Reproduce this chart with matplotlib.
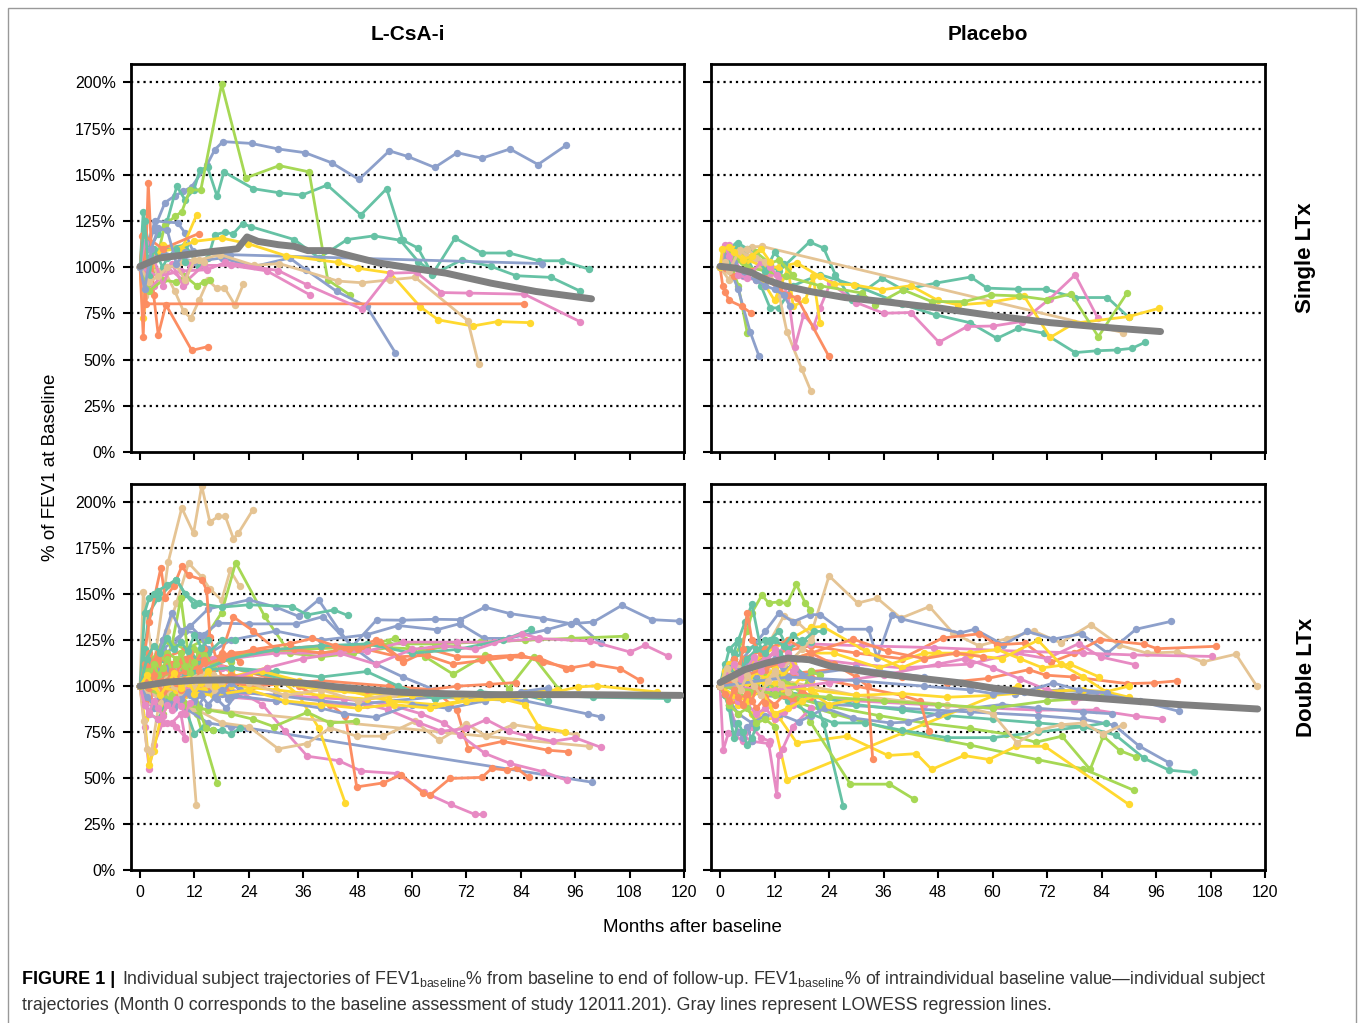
import numpy as np
import matplotlib.pyplot as plt
from matplotlib.patches import Rectangle

plt.rcParams['font.family'] = ['Liberation Sans', 'DejaVu Sans']
plt.rcParams['mathtext.fontset'] = 'custom'
plt.rcParams['mathtext.rm'] = 'Liberation Sans'

# ==============================
# Colours (Set2-like)
# ==============================
pal = {'teal': '#66c2a5', 'orange': '#fc8d62', 'blue': '#8da0cb', 'pink': '#e78ac3',
       'green': '#a6d854', 'yellow': '#ffd92f', 'tan': '#e5c494'}

# ==============================
# Data: each subject = (months, % of baseline FEV1)
# ==============================
# L-CsA-i, single LTx
lcsa_single = [
    ([0, 3, 5.5, 7.7, 9.5, 11.4, 14.8, 16.5, 18.3, 24.6, 30.5, 36.4, 42.3, 48.3, 55, 59, 65, 70, 75.4, 81.6, 87.8, 94],
     [100, 120, 135, 138.7, 141, 143.6, 155.6, 163.7, 168, 167, 164, 162, 156.5, 147.5, 163, 160, 154, 162, 159, 164, 155.6, 166]),
    ([0, 0.7, 2, 4, 6, 8.1, 9.9, 11.9, 13.2, 14.9, 17, 18.5, 25, 30.7, 35.7, 41.3, 48.7, 54.4, 58, 61.3, 64.5, 71, 77.4, 83, 90.7, 97],
     [100, 130, 110, 118, 125, 143.8, 136.6, 142, 152.8, 154, 138.4, 151.6, 142.5, 140.3, 139, 144.5, 128.3, 142.5, 114.6, 110.4, 96, 104, 100.5, 95.4, 94.5, 87.2]),
    ([0, 2, 5, 10, 13, 15, 16.5, 18.8, 20.5, 22.6, 24.4, 34, 39.5, 45.7, 51.6, 57.4, 61.4, 64.7, 69.5, 75.4, 81.4, 88, 93, 99],
     [100, 105, 110, 112, 100, 105, 117.6, 119, 118, 123.6, 122, 115, 105, 115, 117, 114.6, 103, 97, 115.8, 107.7, 107.7, 103.5, 103.5, 99]),
    ([0, 2.2, 5.5, 7.7, 9.2, 11, 13.4, 18, 23.3, 30.7, 37.3, 41.4, 46.3],
     [100, 89, 123, 127.5, 130, 141.8, 141.8, 199, 148.3, 155, 151.6, 93.2, 85]),
    ([0, 3.3, 8.3, 9.9, 11.7, 19.9, 88.7],
     [100, 125, 124, 118.7, 108.6, 106.8, 102]),
    ([0, 5, 12, 18, 25.2, 33, 36.6, 43.4, 50, 56.3],
     [100, 108, 103, 105, 100.4, 105, 98.6, 86.9, 78.8, 53.8]),
    ([0, 3, 8, 12, 18, 23.9, 32.2, 43.7, 48, 55.2, 61.8, 65.8, 73.4, 78.9, 86],
     [100, 108, 110, 114, 115.8, 112.7, 106.2, 102.6, 99.5, 96.9, 78.6, 71.5, 68.2, 70.6, 70]),
    ([0, 0.7, 2, 5.1, 9.2, 12.5],
     [100, 72.6, 95, 112, 109.5, 128.5]),
    ([0, 4, 9, 13, 17.7, 25.2, 30.7, 43.7, 49, 55.2, 60.7, 72.3, 74.7],
     [100, 98, 103, 104, 106.8, 101, 102, 92.5, 91.6, 93.2, 94.5, 71.1, 47.4]),
    ([0, 1.1, 5.5, 7.7, 9.6, 11.2, 13.1, 15, 16.9, 18.6, 20.9, 22.8],
     [100, 84.2, 97.7, 86.9, 76.1, 72.5, 82.4, 93, 88.6, 89, 79.7, 90.9]),
    ([0, 0.5, 1.4, 84.8],
     [100, 117, 80.2, 80.2]),
    ([0, 0.7, 1.8, 3, 4, 5.7, 11.4, 14.9],
     [100, 62.5, 145.7, 85, 63.4, 79.7, 55, 57]),
    ([0, 0.7, 5, 12.9],
     [100, 117.5, 110, 118.2]),
    ([0, 4, 9, 14.7, 18.8, 30.5, 36.8, 49, 55.2, 61, 66.5, 72.5, 84.8, 97],
     [100, 95, 98, 98.6, 102.6, 98.2, 90.5, 77.3, 96.8, 97.2, 86.3, 86, 85.4, 70.6]),
    ([0, 3, 6, 10, 14, 20, 28, 37.5],
     [100, 90, 100, 92, 101, 101, 98, 85]),
    ([0, 2, 5, 8, 10, 12.5, 14, 15.5],
     [100, 87, 93, 92, 95, 90, 92, 93]),
    ([0, 1, 3, 5, 7, 9.5, 11],
     [100, 113, 105, 90, 102, 90, 101]),
    ([0, 1, 2, 3, 5, 6, 8, 10],
     [100, 125, 95, 110, 100, 105, 110, 103]),
    ([0, 2, 4, 6, 8, 10, 12, 14],
     [100, 92, 95, 100, 101, 93, 104, 103]),
    ([0, 1, 2.5, 4, 6, 8, 10],
     [100, 88, 110, 121, 120, 102, 108]),
]
lcsa_single_colors = ['blue', 'teal', 'teal', 'green', 'blue', 'blue', 'yellow', 'yellow', 'tan', 'tan',
                      'orange', 'orange', 'orange', 'pink', 'pink', 'green', 'pink', 'teal', 'tan', 'blue']
lcsa_single_lowess_m = [0, 4.3, 10.2, 16.2, 19.7, 21.5, 23.6, 26, 30.5, 34, 37, 42, 46.8, 52.7, 60, 67.5, 77.4, 87.3, 99.6]
lcsa_single_lowess_v = [100.5, 105, 106.8, 108.6, 109.5, 110, 116.4, 114, 112.2, 111.3, 109, 109, 105.9, 102.3, 99.5, 96.8, 91.4, 86.9, 82.9]

# Placebo, single LTx
plac_single = [
    ([0, 3, 8, 13, 19.7, 22.8, 25.4, 29, 35.7, 40.3, 47.5, 55.2, 58.8, 65.7, 71.7, 78.2, 85.3, 90],
     [100, 108, 105, 98, 113.7, 110.4, 95.9, 82.4, 94.1, 87.8, 91.4, 94.7, 88.7, 88.1, 88.1, 83.6, 83.6, 72.9]),
    ([0, 1.5, 3.5, 6, 9, 11, 13, 16, 22, 30, 40, 47.5, 55, 61, 65.7, 71.3, 78.2, 83, 87.3, 90.7, 93.6],
     [100, 109, 112, 105, 90, 78, 78, 90, 96, 90, 80, 74.2, 70, 61.5, 67, 64.3, 53.8, 54.8, 55.2, 56.1, 59.4]),
    ([0, 2, 5, 7, 9.2, 88.8],
     [100, 105, 110, 111, 111.3, 64.6]),
    ([0, 2, 4, 6, 9, 11, 13, 14.7, 18, 20],
     [100, 93, 110, 106, 100, 97, 85, 65.2, 44.8, 33]),
    ([0, 2, 5, 8, 11, 13, 15, 16.5, 18.4, 20.6, 22, 24.3, 30, 36, 42, 48.2, 54.4, 60.2, 66.4, 72.6, 78.2, 83.2],
     [100, 112, 95, 93, 97, 94, 85, 57, 74.3, 67.9, 77.9, 91.4, 80.9, 75.1, 75.5, 59.4, 67.9, 68.2, 70.6, 82.9, 95.9, 72.4]),
    ([0, 1, 3, 6, 10, 13, 16.9, 22, 25, 29.4, 35.7, 42, 48, 52.5, 59.2, 67, 72.7, 78, 90, 96.7],
     [100, 108, 110, 104, 100, 100, 102.3, 95, 91, 90.5, 87.8, 90, 82, 79.6, 80.9, 84.2, 62, 69.7, 73.3, 77.8]),
    ([0, 2, 4, 8, 10, 12, 15, 16.1, 18.8, 20.5, 22],
     [100, 108, 105, 95, 90, 82, 99.7, 78.8, 82.4, 95, 70]),
    ([0, 3, 6, 10, 14.5, 22, 31.3, 34.2, 40.3, 46.6, 53.8, 59.6, 65.8, 72, 77.3, 83.3, 89.7],
     [100, 105, 100, 98, 95, 90, 86, 79.6, 87.8, 81.4, 81.4, 85, 84.5, 82.4, 85.6, 62.4, 86.3]),
    ([0, 2, 4, 6],
     [100, 105, 90, 64.3]),
    ([0, 1, 2, 4, 6.6, 8.6],
     [100, 105, 100, 88, 65.2, 51.7]),
    ([0, 0.6, 1.1, 2, 4.8, 6.8],
     [100, 89.6, 86.7, 82, 78.8, 75.2]),
    ([0, 3, 7, 10, 13, 15, 17, 23.9],
     [100, 95, 98, 94, 88, 85, 83.3, 52]),
    ([0, 1, 3, 5, 8, 10, 12, 14, 15.4],
     [100, 108, 103, 96, 93, 90, 88, 85, 78.8]),
    ([0, 2, 4, 6, 8, 10, 12, 14],
     [100, 102, 113, 110, 106, 98, 108, 102]),
    ([0, 1, 3, 5, 8, 11, 13, 16],
     [100, 110, 106, 103, 108, 102, 104, 96]),
    ([0, 1, 2, 4, 6, 9, 11, 12.5],
     [100, 112, 106, 96, 94, 103, 100, 96]),
    ([0, 1, 2, 4, 6, 8, 10],
     [100, 103, 98, 108, 110, 105, 103]),
    ([0, 0.5, 2, 3, 5, 7, 9, 11],
     [100, 110, 111, 108, 104, 106, 110, 103]),
]
plac_single_colors = ['teal', 'teal', 'tan', 'tan', 'pink', 'yellow', 'yellow', 'green', 'green', 'blue',
                      'orange', 'orange', 'blue', 'teal', 'green', 'pink', 'tan', 'yellow']
plac_single_lowess_m = [0, 3.5, 6.8, 10.2, 14, 19.8, 27.5, 36, 48.6, 60.2, 72.7, 87, 97]
plac_single_lowess_v = [100.5, 99.5, 97.2, 93.2, 90, 86.9, 83.6, 81.4, 77.8, 73.7, 70, 67, 65.2]

# L-CsA-i, double LTx
lcsa_double = [
    ([0, 0.7, 3, 6.2, 9.2, 11.8, 13.6, 15.4, 17.3, 18.8, 20.6, 21.7, 24.9],
     [100, 151.3, 110, 167.5, 197, 183.3, 209, 189.3, 192.4, 192.4, 180.3, 183.3, 196]),
    ([0, 4, 8, 10.7, 12.4],
     [100, 95, 92, 88, 35.3]),
    ([0, 3, 6, 8, 10.7, 13.6, 15.4, 18, 19.9, 22],
     [100, 115, 130, 145, 167, 159.4, 153, 146.7, 163, 154.3]),
    ([0, 3, 6, 10, 14, 18, 21.1, 27.5, 33, 40, 47, 55, 62, 70],
     [100, 115, 125, 120, 125, 140, 167.2, 138, 118, 116, 118, 121, 120, 122]),
    ([0, 3, 6, 9, 12.5, 17],
     [100, 110, 105, 95, 85, 47.1]),
    ([0, 5, 10, 15, 20, 23.6, 99.6],
     [100, 92, 88, 80, 78, 77.3, 47.8]),
    ([0, 5, 10, 16, 22, 27, 32, 36.9, 43.8, 48.8, 56.7, 62.6, 68.5, 73.9, 75.7],
     [100, 95, 102, 100, 97, 90, 75.5, 61.9, 59.5, 53.8, 52.5, 42.4, 35.7, 30.2, 30.2]),
    ([0, 5, 12, 20, 28, 35, 42, 45.3, 47.8, 53.7, 57.6, 62.5, 64, 68.4, 75.4, 77.6, 80.9, 83.1, 85.7],
     [100, 110, 115, 110, 105, 100, 90, 83.6, 45.2, 47.4, 51.9, 41.7, 40.8, 49.8, 50.4, 55.3, 54.3, 55.4, 50.4]),
    ([0, 10, 25, 40, 55, 65, 69.9, 72.4, 80, 89.9, 94.5],
     [100, 105, 100, 103, 100, 98, 87, 66, 70, 65.2, 64.3]),
    ([0, 5, 12, 20, 28, 35, 39.4, 45.3],
     [100, 95, 100, 105, 110, 95, 77.3, 36.2]),
    ([0, 5, 12, 18, 24, 30.5, 36.9, 41.9, 47.8, 53.7, 60.6, 66, 72, 76.4, 82.3, 96.1],
     [100, 92, 88, 80, 78, 65.9, 68.8, 77.3, 72.8, 72.8, 80.9, 70.6, 79.6, 72.8, 79.1, 73.7]),
    ([0, 5, 12, 99],
     [100, 95, 88, 67.3]),
    ([0, 10, 20, 30, 40, 50, 54.7, 61.6, 66.5, 72, 76.4, 81.3, 85.8, 91, 96, 101.6],
     [100, 97, 94, 92, 90, 90, 87.2, 80, 75.5, 77, 81.8, 75.5, 72.8, 70, 71.9, 66.8]),
    ([0, 15, 30, 45, 55, 62, 67, 70.6, 76.1, 81.6, 89, 94.1],
     [100, 98, 95, 93, 90, 85, 80, 73.4, 63.4, 58, 53.4, 48.9]),
    ([0, 5, 10, 15, 24, 30, 35, 39.4, 44, 46.8, 52.2, 57.7, 65.1, 70.6, 76.1, 81.6, 89, 95, 100, 106.3, 112.9, 119],
     [100, 120, 130, 142, 147, 143, 138, 147, 130, 121.6, 136.1, 135.9, 136.4, 136.2, 143, 139.5, 136.8, 134, 134.9, 144, 136.2, 135.4]),
    ([0, 10, 20, 30, 40, 50, 57, 65.5, 70.5, 75.9, 81.3, 89.7, 96.1, 101.6],
     [100, 110, 125, 130, 125, 128, 133, 130.7, 134, 126, 126, 130.7, 135.2, 123.4]),
    ([0, 5, 10, 14, 17.2, 24.1, 34.5, 40.4, 46.8, 52, 58, 65],
     [100, 115, 130, 128, 134.3, 133.9, 133.9, 137.9, 121.6, 112, 105, 98]),
    ([0, 10, 20, 30, 40, 48, 55, 65, 75, 85, 98.9, 101.6],
     [100, 95, 97, 95, 92, 90, 92, 94, 93, 92, 84.8, 83.3]),
    ([0, 8, 15, 25, 35, 45, 55, 65, 75, 85, 95, 107],
     [100, 110, 115, 118, 120, 121, 123, 123, 124, 125, 126, 127.2]),
    ([0, 10, 20, 30, 40, 50, 56.2, 62.9, 69.1, 76.1, 81.3, 86.8, 92.3],
     [100, 110, 115, 120, 118, 122, 126, 116, 106.5, 116.8, 98.7, 116, 98.7]),
    ([0, 10, 20, 30, 40, 50, 57, 63.2, 69, 75.4, 81.6, 88, 93.9, 99.8, 105.9, 110.2],
     [100, 112, 118, 120, 122, 120, 116, 116.8, 112, 114, 116, 115.3, 109.5, 112, 109.5, 103.3]),
    ([0, 10, 20, 30, 40, 50, 58, 70, 78, 87.9, 99.3, 108.1, 111.4, 116.5],
     [100, 108, 115, 118, 118, 119, 124, 124, 124, 125.9, 124.6, 118.6, 122.3, 116.3]),
    ([0, 10, 20, 30, 40, 50, 60, 70, 80, 90, 100, 116.2],
     [100, 105, 110, 105, 100, 98, 97, 96, 95, 95, 94, 93.3]),
    ([0, 10, 20, 30, 40, 50, 60, 70, 80, 90, 96.7, 100.7, 114],
     [100, 103, 105, 102, 98, 96, 95, 94, 95, 96, 99.6, 100.2, 96.9]),
    ([0, 10, 20, 30, 40, 50, 60, 70, 80, 85, 87.9, 93.8],
     [100, 98, 100, 98, 95, 93, 95, 95, 93, 90, 77.9, 75.2]),
    ([0, 2, 4, 8, 10, 13, 18, 24.1, 33.5, 36.9, 42.8, 45.8],
     [100, 140, 148, 158, 150, 145, 143, 144.3, 143.3, 138.8, 141.5, 138.5]),
    ([0, 2, 4.6, 5.5, 7.4, 9.2, 10.7, 13.6, 14.7, 15.4, 18, 20],
     [100, 135, 164.5, 148, 154.3, 165.2, 160.3, 158, 152.2, 126.8, 105, 95]),
    ([0, 5, 10, 15, 18, 20.6, 25, 30, 34, 40, 46, 52, 58, 64, 70, 77, 84, 89, 95],
     [100, 115, 120, 110, 118, 137.7, 130, 120, 120, 118, 120, 125, 113, 120, 116, 116, 117, 113, 110]),
    ([0, 1, 2, 3, 4, 6, 8, 10, 12],
     [100, 140, 148, 150, 152, 155, 158, 150, 144]),
    ([0, 1, 2, 3, 5, 7, 9, 10],
     [100, 78, 55, 68, 80, 80, 85, 71]),
    ([0, 1, 2, 3, 5],
     [100, 82, 57, 65, 88]),
    ([0, 0.8, 1.5, 2.5, 4, 6],
     [100, 81, 66, 64, 88, 95]),
    ([0, 1, 3, 5, 7, 9, 11, 13],
     [100, 112, 115, 125, 122, 148, 110, 118]),
    ([0, 1, 3, 5, 7, 9, 11, 13, 15],
     [100, 95, 110, 125, 140, 130, 133, 128, 120]),
    ([0, 1, 3, 5, 7, 9, 11, 13, 15, 18, 21],
     [100, 120, 108, 115, 110, 105, 120, 112, 118, 125, 125]),
    ([0, 2, 4, 6, 8, 10, 12, 14, 16, 18, 20, 22],
     [100, 110, 118, 112, 108, 115, 112, 120, 110, 115, 118, 113]),
    ([0, 2, 4, 6, 8, 10, 12, 14, 16, 18],
     [100, 105, 98, 102, 110, 95, 103, 98, 106, 100]),
    ([0, 2, 4, 6, 8, 10, 12, 14, 16, 18, 20],
     [100, 95, 105, 98, 110, 103, 112, 105, 115, 110, 108]),
    ([0, 1, 3, 5, 7, 9, 11, 13, 15, 17, 19, 21],
     [100, 93, 88, 96, 92, 100, 95, 90, 97, 93, 88, 95]),
    ([0, 2, 4, 6, 8, 10, 12, 14, 16, 18],
     [100, 92, 90, 96, 100, 104, 106, 108, 106, 104]),
    ([0, 2, 4, 6, 8, 10, 12, 14, 16, 18, 20],
     [100, 108, 112, 118, 115, 110, 120, 117, 112, 115, 113]),
    ([0, 2, 4, 6, 8, 10, 12, 14, 16, 18, 20, 22],
     [100, 85, 82, 92, 96, 88, 74, 78, 76, 76, 74, 77]),
    ([0, 1, 2, 3, 5, 7, 9, 11, 13, 15],
     [100, 92, 98, 90, 95, 100, 92, 97, 105, 100]),
    ([0, 2, 4, 6, 8, 10, 12, 14, 16, 18, 20, 22, 24],
     [100, 102, 98, 104, 100, 106, 102, 98, 104, 100, 108, 104, 106]),
    ([0, 1, 2, 4, 6, 8, 10],
     [100, 90, 85, 82, 80, 78, 72]),
    ([0, 2, 4, 6, 8, 10, 12, 14, 16, 18, 20, 22],
     [100, 104, 108, 110, 102, 106, 98, 104, 100, 96, 102, 98]),
    ([0, 1, 3, 5, 7, 9, 11, 13, 14.5, 16],
     [100, 96, 90, 85, 95, 100, 110, 88, 77, 76]),
    ([0, 10, 20, 30, 40, 50, 60, 70, 80, 86.3],
     [100, 105, 115, 120, 122, 123, 118, 120, 125, 131]),
    ([0, 5, 10, 15, 20, 25, 29.5, 36.9, 41.9, 47.6],
     [100, 95, 90, 87, 85, 82, 78, 85.8, 80, 81]),
    ([0, 10, 20, 30, 40, 50, 57, 65, 75, 85, 90],
     [100, 108, 110, 108, 105, 108, 100, 93, 97, 95, 92]),
    ([0, 10, 20, 27, 35, 45, 55, 65, 75, 85, 92],
     [100, 100, 105, 108, 103, 98, 92, 90, 93, 97, 98]),
    ([0, 10, 20, 30, 40, 50, 60, 70, 77, 83],
     [100, 103, 106, 103, 100, 98, 97, 100, 101, 102]),
    ([0, 10, 20, 30, 40, 45, 52, 60, 68, 76, 84, 90],
     [100, 98, 95, 92, 88, 85, 83, 90, 88, 92, 97, 99]),
    ([0, 10, 20, 28, 36, 44, 52, 60, 67, 74, 84.3, 88],
     [100, 98, 104, 110, 115, 118, 112, 120, 122, 120, 128.5, 126]),
    ([0, 8, 16, 24, 32, 40, 48, 56, 64, 72, 80, 88],
     [100, 98, 95, 98, 92, 90, 88, 90, 88, 92, 93, 95]),
    ([0, 10, 18, 25, 33, 38, 43, 48, 53, 58],
     [100, 108, 115, 120, 123, 126, 122, 120, 124, 114]),
    ([0, 8, 16, 24, 32, 40, 48, 56],
     [100, 104, 106, 102, 95, 98, 92, 96]),
    ([0, 1, 2, 3, 4, 5, 6, 7, 8, 9, 10, 11, 12, 13, 14],
     [100, 112, 118, 110, 114, 108, 116, 112, 106, 114, 110, 118, 112, 108, 114]),
    ([0, 1.5, 3, 4.5, 6, 7.5, 9, 10.5, 12, 13.5, 15, 16.5, 18],
     [100, 96, 102, 98, 104, 100, 96, 103, 99, 105, 101, 97, 103]),
    ([0, 1, 2, 3, 4, 5, 6, 7, 8, 9, 10, 11, 12],
     [100, 108, 104, 112, 106, 110, 115, 108, 112, 118, 111, 107, 113]),
    ([0, 1.5, 3, 4.5, 6, 7.5, 9, 10.5, 12, 13.5, 15, 16.5, 18, 19.5],
     [100, 94, 90, 95, 91, 88, 93, 97, 92, 95, 90, 94, 98, 93]),
    ([0, 1, 2, 3, 4, 5, 6, 7, 8, 9, 10],
     [100, 104, 99, 106, 101, 97, 103, 108, 102, 98, 104]),
    ([0, 1.5, 3, 4.5, 6, 7.5, 9, 10.5, 12, 13.5, 15],
     [100, 115, 122, 118, 126, 120, 124, 119, 128, 121, 125]),
    ([0, 1, 2, 3, 4, 5, 6, 7, 8, 9, 10, 11],
     [100, 90, 86, 92, 88, 84, 90, 87, 93, 89, 85, 91]),
    ([0, 1.5, 3, 4.5, 6, 7.5, 9, 10.5, 12, 13.5, 15, 16.5],
     [100, 106, 100, 95, 101, 107, 99, 104, 96, 102, 108, 100]),
]
lcsa_double_colors = ['tan', 'tan', 'tan', 'green', 'green', 'blue', 'pink', 'orange', 'orange', 'yellow',
                      'tan', 'tan', 'pink', 'pink', 'blue', 'blue', 'blue', 'blue', 'green', 'green',
                      'orange', 'pink', 'teal', 'yellow', 'yellow', 'teal', 'orange', 'orange', 'teal', 'pink',
                      'yellow', 'tan', 'green', 'blue', 'teal', 'orange', 'yellow', 'pink', 'blue', 'tan',
                      'green', 'teal', 'orange', 'yellow', 'pink', 'blue', 'green', 'teal', 'green', 'teal',
                      'yellow', 'orange', 'blue', 'pink', 'yellow', 'orange', 'tan',
                      'orange', 'tan', 'green', 'blue', 'orange', 'teal', 'pink', 'yellow']
lcsa_double_lowess_m = [0, 6.3, 12.2, 20.1, 28, 35.9, 43.8, 50.7, 57.6, 67.5, 77.4, 87.3, 97.1, 119.3]
lcsa_double_lowess_v = [100, 102.3, 103.2, 103.5, 102.6, 101.7, 99.5, 98.1, 96.7, 95.9, 95.4, 95.4, 95.4, 95]

# Placebo, double LTx
plac_double = [
    ([0, 3, 6, 10, 14, 17, 20, 24, 30.3, 34.6, 39.8, 46.1, 51.3, 57, 63.2, 69.1, 75, 81.6, 87.9, 94, 100.7, 106.3, 113.6, 118.2],
     [100, 108, 110, 120, 138, 135, 128, 160, 145.2, 147.9, 137, 143.3, 128.9, 122, 125.9, 130, 123.6, 133.5, 122.3, 118, 118.6, 113.2, 117.4, 100]),
    ([0, 5, 10, 13, 16, 19.7, 22, 26.4, 32.7, 34.6, 37.9, 39.8, 52.8, 56.1, 62.4, 67.6, 73.4, 79.6, 85.3, 91.6, 99.2],
     [100, 115, 130, 140, 135, 138.8, 139, 131, 131, 115.3, 138.8, 136.7, 128.9, 131, 122.5, 129.8, 125.6, 128.5, 118, 131, 135.2]),
    ([0, 5, 12, 20, 30, 40, 49, 57.1, 61, 67.1, 72.9, 78, 83.7, 93.4, 96.3, 109.2],
     [100, 110, 118, 122, 118, 115, 126.2, 128.5, 122.5, 123.4, 113, 118, 125.4, 122.8, 120.4, 121.7]),
    ([0, 5, 10, 15, 19.7, 31, 47, 66, 80, 91, 108.3],
     [100, 108, 115, 122, 123, 122, 121, 119, 118, 117, 116.2]),
    ([0, 10, 20, 30, 40, 50, 58.9, 68, 71.7, 77.8, 89.7, 95.6, 100.7],
     [100, 105, 108, 110, 105, 102, 104.2, 109, 106, 105, 101.4, 101.8, 102.9]),
    ([0, 10, 20, 30, 40, 55, 65, 72, 79, 83.8, 91.3],
     [100, 110, 115, 112, 110, 112, 118, 115, 123.2, 115.9, 111.8]),
    ([0, 15, 30, 45, 60, 70, 82.7, 91.5, 97.4],
     [100, 95, 92, 90, 88, 87, 87, 83.7, 82.1]),
    ([0, 10, 25, 40, 55, 70, 80, 86.8, 92.3, 98.9],
     [100, 95, 90, 88, 86, 84, 82, 78.8, 67.4, 58.3]),
    ([0, 10, 20, 30, 40, 50, 60, 70, 80, 87.1, 93.4, 98.9, 104.3],
     [100, 98, 95, 90, 87, 84, 82, 80, 78, 73.4, 60.7, 54.3, 53.1]),
    ([0, 8, 15, 22, 35, 45, 55, 63, 69.5, 75.3, 81.5, 84.4, 88, 91.6],
     [100, 105, 95, 90, 84, 80, 77, 74, 69.5, 72.8, 54.7, 72.8, 65, 61.5]),
    ([0, 12, 25, 40, 55, 70, 80, 91.1],
     [100, 95, 85, 75, 68, 60, 55, 43.4]),
    ([0, 3, 7, 10, 13, 16.9, 27.9, 37, 43.2, 46.6, 53.7, 59.2, 65.2, 71.5, 90],
     [100, 95, 85, 82, 83, 69.1, 72.8, 62.3, 63.3, 54.7, 62.3, 60.1, 67.3, 67.3, 35.7]),
    ([0, 5, 8, 11, 14.8, 65.7],
     [100, 90, 82, 90, 48.9, 100.3]),
    ([0, 3, 6, 10, 13, 16, 19, 22.8, 27.1],
     [100, 115, 120, 125, 118, 112, 105, 79.7, 34.8]),
    ([0, 5, 10, 15, 19.9, 28.7, 37.3, 42.8],
     [100, 110, 115, 100, 80.6, 46.7, 46.7, 38.4]),
    ([0, 2, 4, 7, 10.7, 12.5, 12.9, 13.8, 16, 20],
     [100, 90, 75, 70, 68.8, 40.8, 62.5, 66.1, 78, 88]),
    ([0, 0.7, 1.8, 3, 5, 7, 9, 11],
     [100, 65.2, 74.3, 74, 70, 78, 72, 70]),
    ([0, 3, 6, 7, 9.2, 10.7, 12.9, 14.8, 16.8, 18.8, 19.9],
     [100, 115, 130, 140, 149.5, 145.3, 145.8, 145, 155.4, 145, 141.6]),
    ([0, 2, 4, 5.5, 7, 9, 11, 13, 15, 18, 20],
     [100, 120, 125, 135, 144.6, 120, 125, 130, 120, 125, 124]),
    ([0, 4, 7, 10, 13.1, 17.3, 20, 23.1, 29.3, 37.5, 41.3, 48, 55, 62, 70, 80, 86.2],
     [100, 85, 80, 84, 84.8, 80.6, 84, 88.1, 82.7, 80, 80.5, 85, 88, 90, 88, 86, 85]),
    ([0, 5, 10, 15, 20, 25, 32, 40, 50, 60, 70, 80, 85],
     [100, 110, 100, 92, 85, 80, 80, 76, 72, 72, 75, 78, 80]),
    ([0, 10, 20, 30, 40, 50, 55, 60, 65.4, 70, 75, 80, 84.3, 88.7],
     [100, 105, 100, 95, 92, 90, 88, 85, 69.2, 76, 79, 80, 74, 79]),
    ([0, 10, 20, 25, 35, 45, 55, 61, 66, 71, 77, 83.5],
     [100, 110, 118, 118, 110, 118, 118, 120, 115, 110, 112, 105]),
    ([0, 10, 15, 20, 22.6, 32.2, 40, 48, 55, 62, 70, 75, 80, 85, 90],
     [100, 118, 125, 132, 132.5, 118.9, 110, 118, 117, 115, 125, 112, 105, 97, 94]),
    ([0, 15, 30, 45, 55, 65, 75, 85.3, 92.5, 101.1],
     [100, 105, 110, 105, 100, 96, 98, 95.4, 91.8, 86.3]),
    ([0, 5, 10, 15, 20, 25, 30, 32.5, 33.6],
     [100, 115, 120, 125, 118, 112, 105, 100, 60.5]),
    ([0, 10, 20, 30, 40, 44, 46],
     [100, 108, 105, 100, 95, 92, 75.5]),
    ([0, 1, 2, 3, 4, 5, 6, 8],
     [100, 112, 108, 118, 125, 110, 115, 105]),
    ([0, 1, 2, 3, 4, 5, 6, 7, 9],
     [100, 95, 110, 115, 105, 120, 140, 125, 118]),
    ([0, 2, 4, 6, 8, 10, 12, 14, 16, 18],
     [100, 105, 110, 108, 112, 115, 118, 112, 108, 105]),
    ([0, 2, 4, 6, 8, 10, 12, 14, 16, 18, 20],
     [100, 95, 90, 92, 98, 95, 102, 98, 100, 105, 103]),
    ([0, 1, 2, 3, 4, 5, 6, 7],
     [100, 95, 90, 80, 75, 72, 78, 70]),
    ([0, 2, 4, 6, 8, 10, 12, 14, 16, 18, 20],
     [100, 106, 110, 104, 108, 112, 105, 110, 115, 120, 125]),
    ([0, 2, 4, 6, 8, 10, 12, 14, 16, 18, 20, 22],
     [100, 95, 98, 92, 100, 105, 98, 104, 100, 96, 108, 106]),
    ([0, 2, 4, 6, 8, 10, 12, 14, 16, 18, 20],
     [100, 90, 92, 96, 88, 94, 90, 95, 92, 98, 94]),
    ([0, 1, 2, 3, 4, 5, 6, 7, 8],
     [100, 95, 88, 72, 80, 75, 68, 72, 78]),
    ([0, 2, 4, 6, 8, 10, 12, 14, 16, 18, 20],
     [100, 104, 108, 112, 106, 110, 115, 108, 112, 106, 104]),
    ([0, 2, 4, 6, 8, 10, 12, 14, 16],
     [100, 95, 92, 90, 85, 88, 82, 86, 90]),
    ([0, 1, 2, 4, 6, 8, 10, 12, 14, 16],
     [100, 108, 112, 105, 102, 108, 104, 110, 106, 112]),
    ([0, 2, 4, 6, 8, 10, 12, 14, 16, 18, 20.7, 22.6],
     [100, 110, 105, 115, 120, 118, 125, 122, 128, 124, 129.8, 129.8]),
    ([0, 2, 4, 6, 8, 10, 12],
     [100, 90, 85, 88, 80, 82, 78]),
    ([0, 3, 6, 9, 12, 15, 18, 21, 24, 30],
     [100, 95, 92, 98, 85, 88, 92, 95, 90, 93]),
    ([0, 10, 20, 29.3, 37, 45, 52, 58],
     [100, 110, 118, 125.6, 118.9, 115, 118, 116]),
    ([0, 10, 20, 30, 40, 50, 60, 70, 80, 85, 90],
     [100, 102, 98, 95, 96, 94, 95, 97, 98, 97, 100]),
    ([0, 12, 24, 36, 48, 54, 60, 66, 72, 78, 84],
     [100, 98, 102, 106, 112, 115, 110, 104, 98, 92, 95]),
    ([0, 12, 24, 36, 48, 60, 72, 84],
     [100, 96, 94, 92, 90, 88, 92, 94]),
    ([0, 15, 30, 45, 55, 60, 67, 73.4, 79, 85.3],
     [100, 105, 103, 100, 98, 96, 97, 101.7, 98, 96.3]),
    ([0, 1.5, 3, 4.5, 6, 7.5, 9, 10.5, 12, 13.5, 15, 16.5],
     [100, 106, 112, 104, 110, 116, 108, 114, 120, 112, 118, 110]),
    ([0, 1, 2, 3, 4, 5, 6, 7, 8, 9, 10],
     [100, 96, 92, 98, 94, 90, 96, 92, 99, 95, 91]),
    ([0, 1.5, 3, 4.5, 6, 7.5, 9, 10.5, 12, 13.5, 15],
     [100, 110, 104, 98, 106, 100, 95, 103, 108, 101, 97]),
]
plac_double_colors = ['tan', 'blue', 'orange', 'pink', 'orange', 'pink', 'pink', 'blue', 'teal', 'green',
                      'green', 'yellow', 'yellow', 'teal', 'green', 'pink', 'pink', 'green', 'teal', 'blue',
                      'teal', 'tan', 'yellow', 'yellow', 'blue', 'orange', 'orange', 'teal', 'orange', 'pink',
                      'yellow', 'blue', 'tan', 'green', 'orange', 'teal', 'blue', 'pink', 'yellow', 'teal',
                      'green', 'yellow', 'orange', 'yellow', 'pink', 'green', 'blue',
                      'pink', 'orange', 'tan']
plac_double_lowess_m = [0, 5.4, 10.2, 14.9, 19.7, 24.5, 34.1, 43.7, 53.3, 60, 72.4, 86.8, 101.1, 118.4]
plac_double_lowess_v = [102, 109, 112.6, 115.3, 114.4, 110.8, 107.1, 104.4, 101.7, 99, 95.4, 92.7, 90, 87.6]

x_ticks = list(range(0, 121, 12))
y_ticks = list(range(0, 201, 25))
col_titles = ['L-CsA-i', 'Placebo']
row_titles = ['Single LTx', 'Double LTx']

# ==============================
# Plotting
# ==============================
W, H = 1360, 1023
fig = plt.figure(figsize=(W / 100, H / 100), dpi=100)


def px_axes(left, top, right, bottom):
    return fig.add_axes([left / W, 1 - bottom / H, (right - left) / W, (bottom - top) / H])


def draw_panel(ax, subjects, colors, low_m, low_v, xlabels, ylabels):
    for (m, v), c in zip(subjects, colors):
        ax.plot(m, v, '-o', color=pal[c], lw=2.0, ms=5.3, mew=0, zorder=2)
    ax.plot(low_m, low_v, color='#808080', lw=5, zorder=3, solid_capstyle='round')
    for y in y_ticks[1:]:
        ax.axhline(y, color='black', lw=1.6, ls=(0, (1, 1.8)), zorder=1)
    ax.set_xlim(-2, 120)
    ax.set_ylim(0, 210)
    ax.set_xticks(x_ticks)
    ax.set_yticks(y_ticks)
    ax.set_xticklabels([str(t) for t in x_ticks] if xlabels else [])
    ax.set_yticklabels([f'{t}%' for t in y_ticks] if ylabels else [])
    ax.tick_params(direction='out', length=6, width=1.5, labelsize=11.5, pad=5)
    for s in ax.spines.values():
        s.set_linewidth(2)


ax_tl = px_axes(131, 64, 684, 452)
ax_tr = px_axes(711, 64, 1265, 452)
ax_bl = px_axes(131, 484, 684, 870)
ax_br = px_axes(711, 484, 1265, 870)

draw_panel(ax_tl, lcsa_single, lcsa_single_colors, lcsa_single_lowess_m, lcsa_single_lowess_v, False, True)
draw_panel(ax_tr, plac_single, plac_single_colors, plac_single_lowess_m, plac_single_lowess_v, False, False)
draw_panel(ax_bl, lcsa_double, lcsa_double_colors, lcsa_double_lowess_m, lcsa_double_lowess_v, True, True)
draw_panel(ax_br, plac_double, plac_double_colors, plac_double_lowess_m, plac_double_lowess_v, True, False)

# titles and labels
fig.text(408 / W, 1 - 35 / H, col_titles[0], ha='center', va='center', fontsize=15, fontweight='bold')
fig.text(988 / W, 1 - 35 / H, col_titles[1], ha='center', va='center', fontsize=15, fontweight='bold')
fig.text(1306 / W, 1 - 258 / H, row_titles[0], ha='center', va='center', rotation=90, fontsize=16, fontweight='bold')
fig.text(1306 / W, 1 - 677 / H, row_titles[1], ha='center', va='center', rotation=90, fontsize=16, fontweight='bold')
fig.text(51 / W, 1 - 467 / H, '% of FEV1 at Baseline', ha='center', va='center', rotation=90, fontsize=13.5)
fig.text(692 / W, 1 - 928 / H, 'Months after baseline', ha='center', va='center', fontsize=13.5)

# caption
fig.text(22 / W, 1 - 980 / H, 'FIGURE 1 |', ha='left', va='center', fontsize=13, fontweight='bold')
fig.text(122 / W, 1 - 980 / H,
         r'Individual subject trajectories of FEV1$_{\mathrm{baseline}}$% from baseline to end of follow-up. '
         r'FEV1$_{\mathrm{baseline}}$% of intraindividual baseline value—individual subject',
         ha='left', va='center', fontsize=12.8, color='#333333')
fig.text(22 / W, 1 - 1005 / H,
         'trajectories (Month 0 corresponds to the baseline assessment of study 12011.201). '
         'Gray lines represent LOWESS regression lines.',
         ha='left', va='center', fontsize=12.8, color='#333333')

# outer frame
fig.patches.append(Rectangle((8 / W, -0.02), (1356 - 8) / W, 1.02 - 8 / H, transform=fig.transFigure,
                             fill=False, edgecolor='#999999', lw=1))

fig.savefig('out.png', dpi=100)
